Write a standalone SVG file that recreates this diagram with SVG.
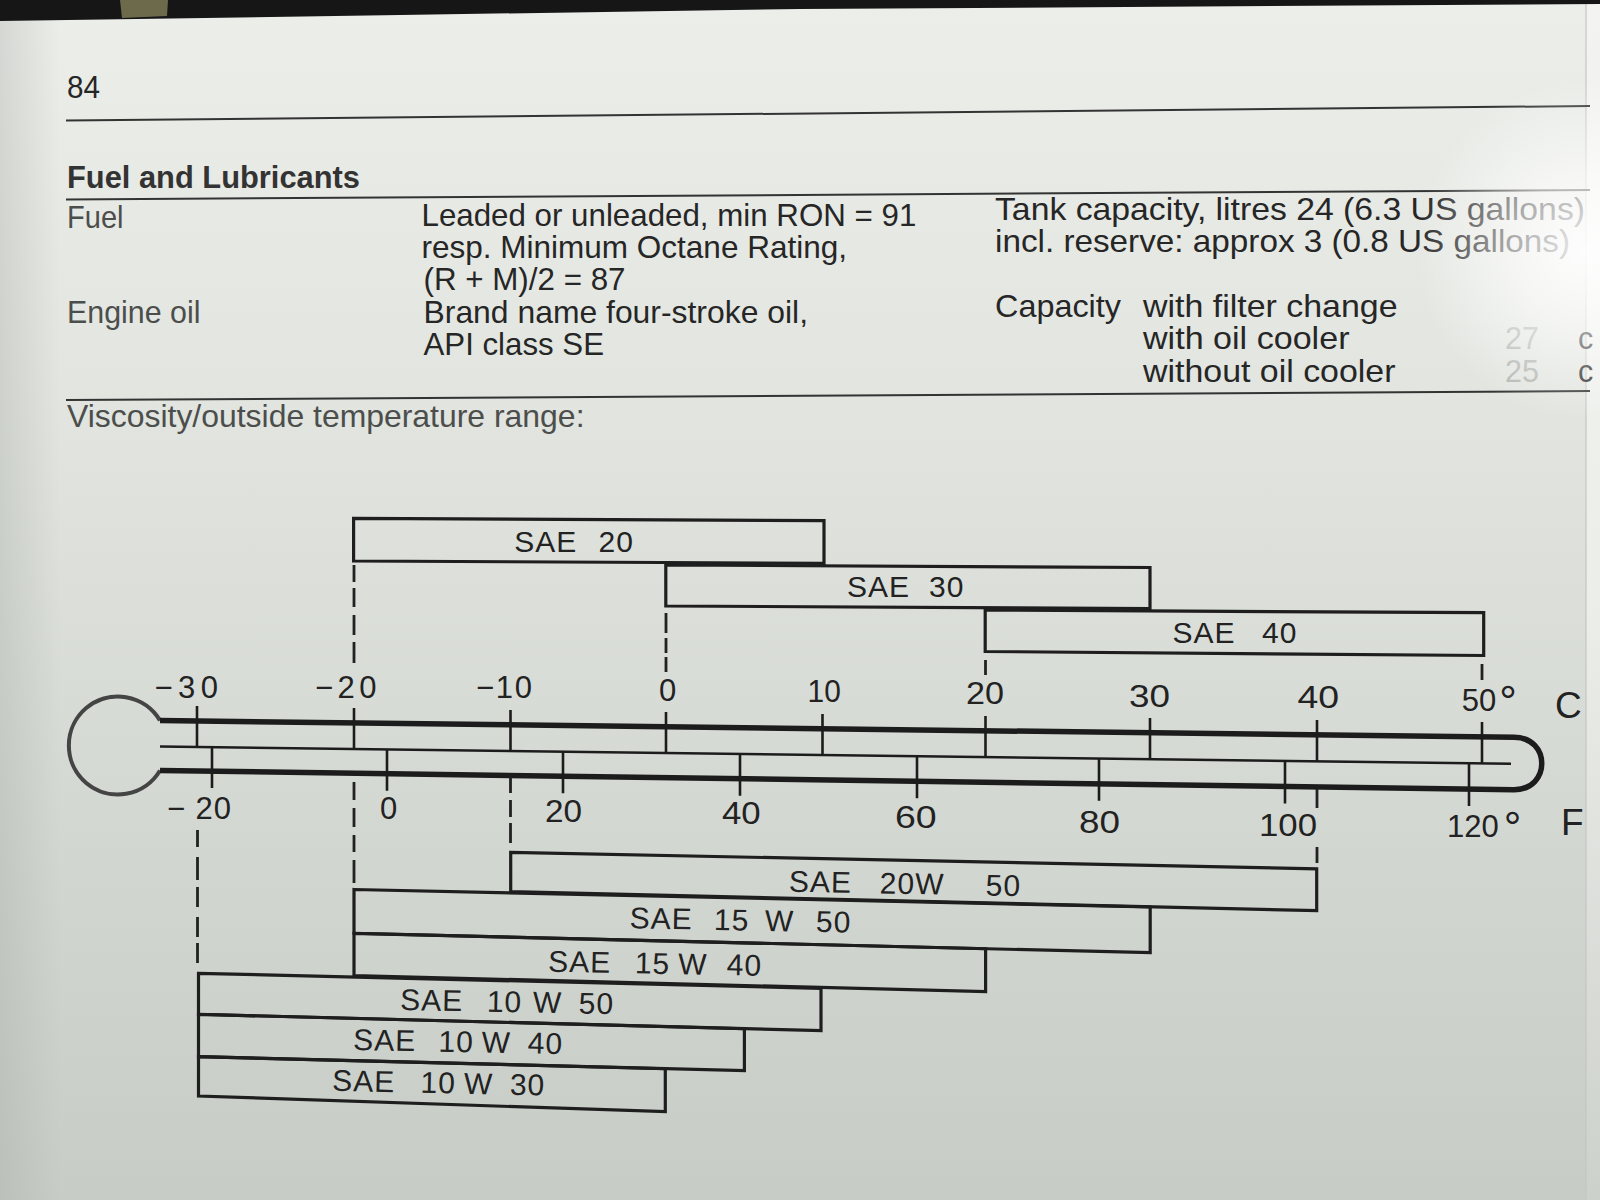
<svg xmlns="http://www.w3.org/2000/svg" width="1600" height="1200" viewBox="0 0 1600 1200">
<defs>
<linearGradient id="page" x1="0" y1="0" x2="0" y2="1">
<stop offset="0" stop-color="#eceeea"/>
<stop offset="0.35" stop-color="#e1e4df"/>
<stop offset="0.7" stop-color="#d3d7d2"/>
<stop offset="1" stop-color="#c7ccc7"/>
</linearGradient>
<linearGradient id="leftshade" x1="0" y1="0" x2="1" y2="0">
<stop offset="0" stop-color="#9fa49f" stop-opacity="0.3"/>
<stop offset="1" stop-color="#9fa49f" stop-opacity="0"/>
</linearGradient>
<linearGradient id="edge" x1="0" y1="0" x2="0" y2="1">
<stop offset="0" stop-color="#f3f4f1"/>
<stop offset="0.5" stop-color="#eceeea"/>
<stop offset="1" stop-color="#cdd1cc"/>
</linearGradient>
<radialGradient id="glare" cx="1585" cy="250" r="170" gradientUnits="userSpaceOnUse">
<stop offset="0" stop-color="#ffffff" stop-opacity="0.92"/>
<stop offset="0.45" stop-color="#ffffff" stop-opacity="0.6"/>
<stop offset="1" stop-color="#ffffff" stop-opacity="0"/>
</radialGradient>
<style>
.t{font-family:"Liberation Sans",Arial,Helvetica,sans-serif;font-size:30.5px;fill:#262626}
.lbl{fill:#4c4e4c}
.faint{fill:#b3b6b2}
.b{font-weight:bold;fill:#333333}
.rule{stroke:#333333;stroke-width:2;fill:none}
.box{fill:none;stroke:#1e1e1e;stroke-width:3.2;stroke-linejoin:miter}
.sae{font-family:"Liberation Sans",Arial,Helvetica,sans-serif;font-size:30px;fill:#222222;letter-spacing:1px}
.sc{font-family:"Liberation Sans",Arial,Helvetica,sans-serif;font-size:31px;fill:#222222}
.unit{font-family:"Liberation Sans",Arial,Helvetica,sans-serif;font-size:37px;fill:#222222}
.thick{stroke:#1c1c1c;stroke-width:5.5;fill:none;stroke-linejoin:round}
.bulb{stroke:#444444;stroke-width:4;fill:none}
.thin{stroke:#1c1c1c;stroke-width:2.6;fill:none}
.tick{stroke:#1c1c1c;stroke-width:2.6;fill:none}
.dash{stroke:#222222;stroke-width:2.8;fill:none}
</style>
</defs>

<g id="background">
<rect x="0" y="0" width="1600" height="1200" fill="url(#page)"/>
<rect x="0" y="0" width="60" height="1200" fill="url(#leftshade)"/>
<rect x="1586" y="0" width="14" height="1200" fill="url(#edge)"/>
<line x1="1586" y1="0" x2="1586" y2="1200" stroke="#c4c7c3" stroke-width="1.2"/>
<polygon points="0,0 1600,0 1600,4 800,9 400,15 0,21" fill="#161616"/>
<polygon points="120,0 168,0 167,16 122,18" fill="#6d6a4c"/>
</g>

<g id="header">
<text class="t" x="67" y="98" textLength="33" lengthAdjust="spacingAndGlyphs">84</text>
<line class="rule" x1="66" y1="120.5" x2="1590" y2="106"/>
<text class="t b" x="67" y="187.5" textLength="293" lengthAdjust="spacingAndGlyphs">Fuel and Lubricants</text>
<line class="rule" x1="66" y1="199.5" x2="1590" y2="190"/>
<text class="t lbl" x="67" y="228" textLength="56.5" lengthAdjust="spacingAndGlyphs">Fuel</text>
<text class="t" x="421.5" y="225.5" textLength="494.8" lengthAdjust="spacingAndGlyphs">Leaded or unleaded, min RON = 91</text>
<text class="t" x="421.5" y="257.5" textLength="425.5" lengthAdjust="spacingAndGlyphs">resp. Minimum Octane Rating,</text>
<text class="t" x="423.5" y="290" textLength="202" lengthAdjust="spacingAndGlyphs">(R + M)/2 = 87</text>
<text class="t lbl" x="67" y="323" textLength="133.5" lengthAdjust="spacingAndGlyphs">Engine oil</text>
<text class="t" x="423.5" y="322.5" textLength="384.5" lengthAdjust="spacingAndGlyphs">Brand name four-stroke oil,</text>
<text class="t" x="423.5" y="355" textLength="180.5" lengthAdjust="spacingAndGlyphs">API class SE</text>
<text class="t" x="995" y="219.5" textLength="590" lengthAdjust="spacingAndGlyphs">Tank capacity, litres 24 (6.3 US gallons)</text>
<text class="t" x="995" y="251.5" textLength="575" lengthAdjust="spacingAndGlyphs">incl. reserve: approx 3 (0.8 US gallons)</text>
<text class="t" x="995" y="316.5" textLength="126" lengthAdjust="spacingAndGlyphs">Capacity</text>
<text class="t" x="1143" y="316.5" textLength="254.5" lengthAdjust="spacingAndGlyphs">with filter change</text>
<text class="t" x="1143" y="349" textLength="206.5" lengthAdjust="spacingAndGlyphs">with oil cooler</text>
<text class="t" x="1143" y="381.5" textLength="252.5" lengthAdjust="spacingAndGlyphs">without oil cooler</text>
<text class="t faint" x="1505" y="349">27</text>
<text class="t" x="1578" y="349" font-size="28">c</text>
<text class="t faint" x="1505" y="381.5">25</text>
<text class="t" x="1578" y="381.5" font-size="28">c</text>
<line class="rule" x1="66" y1="400" x2="1590" y2="391"/>
<text class="t lbl" x="67" y="426.5" textLength="517.5" lengthAdjust="spacingAndGlyphs">Viscosity/outside temperature range:</text>
</g>

<g id="thermometer">
<path class="bulb" d="M160 720.5 A49 49 0 1 0 160 770.5"/>
<path class="thick" d="M160 720.5 L1514 737.3 C1551 737.3 1551 789.7 1514 789.7 L160 770.5"/>
<path class="thin" d="M160 746.5 L1511 763.8"/>
<path id="celsius-ticks" class="tick" d="M197 706V747 M354 708V749 M510.5 710V751 M666 712V753 M822.5 714V755 M985.5 716V757.1 M1150 718V759.2 M1317 720V761.3 M1482 722V763.4"/>
<path id="fahrenheit-ticks" class="tick" d="M212 747.2V788 M387 749.4V790.7 M563 751.7V793.2 M740 753.9V795.7 M917 756.2V798.2 M1099 758.5V800.8 M1285 760.9V803.5 M1469 763.3V806.1"/>
</g>

<g id="celsius-scale">
<text class="sc" x="154.6" y="698.3" textLength="63.4" lengthAdjust="spacing">−30</text>
<text class="sc" x="315" y="698" textLength="61.5" lengthAdjust="spacing">−20</text>
<text class="sc" x="476" y="698" textLength="56" lengthAdjust="spacing">−10</text>
<text class="sc" x="659" y="701">0</text>
<text class="sc" x="807.6" y="701.7" textLength="33.2" lengthAdjust="spacingAndGlyphs">10</text>
<text class="sc" x="966" y="704" textLength="38" lengthAdjust="spacingAndGlyphs">20</text>
<text class="sc" x="1129" y="706.7" textLength="41" lengthAdjust="spacingAndGlyphs">30</text>
<text class="sc" x="1297.4" y="708.3" textLength="41.6" lengthAdjust="spacingAndGlyphs">40</text>
<text class="sc" x="1461.7" y="711">50<tspan dx="3" dy="6" font-size="44">°</tspan></text>
<text class="unit" x="1555" y="718.3">C</text>
</g>

<g id="fahrenheit-scale">
<text class="sc" x="167" y="819.3" textLength="64" lengthAdjust="spacing">− 20</text>
<text class="sc" x="380" y="819">0</text>
<text class="sc" x="545" y="821.7" textLength="37" lengthAdjust="spacingAndGlyphs">20</text>
<text class="sc" x="722" y="824" textLength="38.7" lengthAdjust="spacingAndGlyphs">40</text>
<text class="sc" x="895" y="828.3" textLength="41.7" lengthAdjust="spacingAndGlyphs">60</text>
<text class="sc" x="1079" y="833.3" textLength="41" lengthAdjust="spacingAndGlyphs">80</text>
<text class="sc" x="1259" y="836" textLength="58" lengthAdjust="spacingAndGlyphs">100</text>
<text class="sc" x="1447" y="836.7">120<tspan dx="5" dy="6" font-size="44">°</tspan></text>
<text class="unit" x="1561" y="835">F</text>
</g>

<g id="connectors">
<path class="dash" d="M354 565V582 M354 588V607 M354 615V635 M354 642V663"/>
<path class="dash" d="M666 613V633 M666 638V653 M666 657V672"/>
<path class="dash" d="M985.5 660V675"/>
<path class="dash" d="M1482 664V680"/>
<path class="dash" d="M197.5 830V847 M197.5 857V880 M197.5 887V907 M197.5 917V937 M197.5 943V963"/>
<path class="dash" d="M354 782V800 M354 808V827 M354 835V852 M354 860V883"/>
<path class="dash" d="M510.5 777V793 M510.5 800V817 M510.5 823V843"/>
<path class="dash" d="M1317 789V808 M1317 847V863"/>
</g>

<g id="sae20">
<polygon class="box" points="353.6,518.3 824,520.7 824,563.3 353.6,561"/>
<text class="sae" y="551.7"><tspan x="514.3">SAE</tspan> <tspan x="598.5">20</tspan></text>
</g>
<g id="sae30">
<polygon class="box" points="665.8,565 1150,567.5 1150,608.5 665.8,606"/>
<text class="sae" y="596.7"><tspan x="847">SAE</tspan> <tspan x="929">30</tspan></text>
</g>
<g id="sae40">
<polygon class="box" points="985.2,610 1483.7,612.7 1483.7,655.5 985.2,651.5"/>
<text class="sae" y="642.7"><tspan x="1172.4">SAE</tspan> <tspan x="1262">40</tspan></text>
</g>

<g id="sae20w50">
<polygon class="box" points="510.7,852.3 1316.7,868.8 1316.7,910.7 510.7,891.7"/>
<text class="sae" y="891.7" transform="rotate(1.1 788.8 891.7)"><tspan x="788.8">SAE</tspan> <tspan x="879.6">20W</tspan> <tspan x="985.6">50</tspan></text>
</g>
<g id="sae15w50">
<polygon class="box" points="354,889.5 1150.2,907 1150.2,952.7 354,933.3"/>
<text class="sae" y="928.3" transform="rotate(1.1 629.6 928.3)"><tspan x="629.6">SAE</tspan> <tspan x="713.8">15</tspan> <tspan x="764.8">W</tspan> <tspan x="815.8">50</tspan></text>
</g>
<g id="sae15w40">
<polygon class="box" points="354,933.3 985.6,948.7 985.6,991.7 354,975.5"/>
<text class="sae" y="971.7" transform="rotate(1.1 548 971.7)"><tspan x="548">SAE</tspan> <tspan x="634.7">15</tspan> <tspan x="678">W</tspan> <tspan x="726.5">40</tspan></text>
</g>
<g id="sae10w50">
<polygon class="box" points="198.5,973.3 821,988.3 821,1030.7 198.5,1014.3"/>
<text class="sae" y="1010" transform="rotate(1.1 400 1010)"><tspan x="400">SAE</tspan> <tspan x="486.7">10</tspan> <tspan x="532.7">W</tspan> <tspan x="578.6">50</tspan></text>
</g>
<g id="sae10w40">
<polygon class="box" points="198.5,1014.3 744.4,1028.7 744.4,1070.7 198.5,1056.7"/>
<text class="sae" y="1050" transform="rotate(1.1 353 1050)"><tspan x="353">SAE</tspan> <tspan x="438.3">10</tspan> <tspan x="481.6">W</tspan> <tspan x="527.6">40</tspan></text>
</g>
<g id="sae10w30">
<polygon class="box" points="198.5,1056.7 665.3,1068.7 665.3,1111.7 198.5,1096"/>
<text class="sae" y="1090.7" transform="rotate(1.3 332 1090.7)"><tspan x="332">SAE</tspan> <tspan x="420.4">10</tspan> <tspan x="463.8">W</tspan> <tspan x="509.7">30</tspan></text>
</g>

<g id="glare">
<rect x="1400" y="60" width="200" height="420" fill="url(#glare)"/>
</g>
</svg>
